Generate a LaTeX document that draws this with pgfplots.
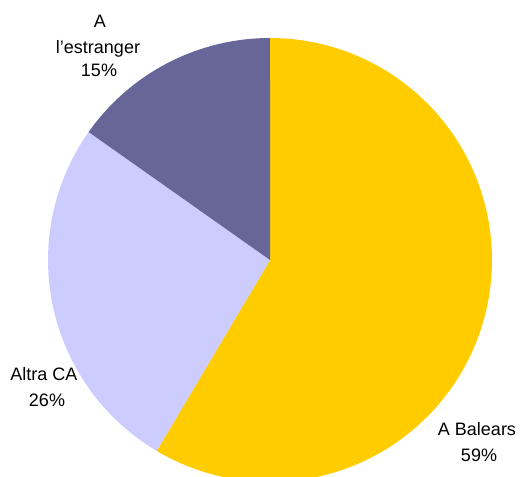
\documentclass[border=0pt]{standalone}
\usepackage{pgfplots}
\pgfplotsset{compat=1.18}
\usepackage{fontspec}
\setmainfont{Liberation Sans}
\definecolor{cBal}{HTML}{FFCC00}
\definecolor{cAltra}{HTML}{CCCCFF}
\definecolor{cEst}{HTML}{666699}
\begin{document}
\begin{tikzpicture}
\begin{axis}[
  x=0.75pt, y=0.75pt,
  xmin=0, xmax=521, ymin=0, ymax=477,
  hide axis, clip=true,
]
\path (axis cs:0,0) rectangle (axis cs:521,477);
% A Balears 58.5% : 90 -> -120.7
\addplot[fill=cBal, draw=none, domain=90:-120.7, samples=120]
  ({270+222*cos(x)},{217+222*sin(x)}) -- (axis cs:270,217) -- cycle;
% Altra CA 26.3% : -120.7 -> -215.2
\addplot[fill=cAltra, draw=none, domain=-120.7:-215.2, samples=60]
  ({270+222*cos(x)},{217+222*sin(x)}) -- (axis cs:270,217) -- cycle;
% A l'estranger 15.2% : -215.2 -> -270
\addplot[fill=cEst, draw=none, domain=-215.2:-270, samples=40]
  ({270+222*cos(x)},{217+222*sin(x)}) -- (axis cs:270,217) -- cycle;
\end{axis}
\begin{scope}[every node/.style={font=\fontsize{13.5}{16}\selectfont, anchor=base, inner sep=0pt}]
\node at (100*0.75pt, {(477-28)*0.75pt}) {A};
\node at (98*0.75pt, {(477-54)*0.75pt}) {l'estranger};
\node at (99*0.75pt, {(477-77)*0.75pt}) {15\%};
\node at (44*0.75pt, {(477-381)*0.75pt}) {Altra CA};
\node at (47*0.75pt, {(477-407)*0.75pt}) {26\%};
\node at (477*0.75pt, {(477-436)*0.75pt}) {A Balears};
\node at (479*0.75pt, {(477-462)*0.75pt}) {59\%};
\end{scope}
\end{tikzpicture}
\end{document}
